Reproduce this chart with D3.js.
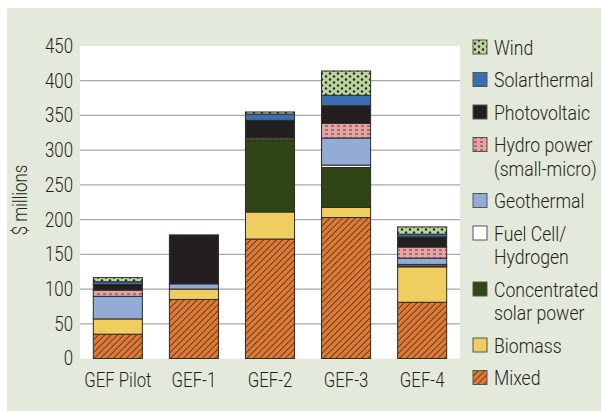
<!DOCTYPE html>
<html>
<head>
<meta charset="utf-8">
<script src="https://cdn.jsdelivr.net/npm/d3@7/dist/d3.min.js"></script>
<style>
  body { margin: 0; background: #fff; }
  text { font-family: Roboto, "DejaVu Sans Condensed", sans-serif; font-weight: 300; fill: #231f20; }
</style>
</head>
<body>
<div id="chart"></div>
<script>
const periods = ["GEF Pilot", "GEF-1", "GEF-2", "GEF-3", "GEF-4"];
// stack order, bottom to top
const sources = ["Mixed", "Biomass", "Concentrated solar power", "Fuel Cell/ Hydrogen",
  "Geothermal", "Hydro power (small-micro)", "Photovoltaic", "Solarthermal", "Wind"];
const mixed        = [35, 85, 172, 203, 81];
const biomass      = [22, 15, 39, 14.5, 51];
const csp          = [0, 0, 104, 57.5, 1.5];
const fuelCell     = [0, 0, 0, 3.5, 2];
const geothermal   = [32.5, 7.5, 0, 39, 9];
const hydro        = [9, 0, 2.5, 21, 16];
const photovoltaic = [8, 70.5, 25.5, 25.5, 14.5];
const solarthermal = [4, 0, 9, 15, 4];
const wind         = [6, 0, 3, 35, 10.5];
const yTicks = [0, 50, 100, 150, 200, 250, 300, 350, 400, 450];

const legendLabels = [
  ["Wind"], ["Solarthermal"], ["Photovoltaic"], ["Hydro power", "(small-micro)"],
  ["Geothermal"], ["Fuel Cell/", "Hydrogen"], ["Concentrated", "solar power"], ["Biomass"], ["Mixed"]
];
const legendKeys = ["Wind", "Solarthermal", "Photovoltaic", "Hydro power (small-micro)",
  "Geothermal", "Fuel Cell/ Hydrogen", "Concentrated solar power", "Biomass", "Mixed"];

const seriesValues = [mixed, biomass, csp, fuelCell, geothermal, hydro, photovoltaic, solarthermal, wind];
const table = periods.map((p, i) => {
  const row = { period: p };
  sources.forEach((s, j) => (row[s] = seriesValues[j][i]));
  return row;
});

const width = 601;
const height = 411;
const squeeze = "scale(0.84,1)"; // condensed look

const svg = d3.select("#chart").append("svg").attr("width", width).attr("height", height);

// patterns
const defs = svg.append("defs");
const hatch = defs.append("pattern").attr("id", "pMixed").attr("patternUnits", "userSpaceOnUse")
  .attr("width", 4.5).attr("height", 4.5).attr("patternTransform", "rotate(45)");
hatch.append("rect").attr("width", 4.5).attr("height", 4.5).attr("fill", "#dd7a35");
hatch.append("line").attr("x1", 0).attr("y1", 0).attr("x2", 0).attr("y2", 4.5)
  .attr("stroke", "#3b2412").attr("stroke-width", 1.4);

const dots = defs.append("pattern").attr("id", "pWind").attr("patternUnits", "userSpaceOnUse")
  .attr("width", 8).attr("height", 6);
dots.append("rect").attr("width", 8).attr("height", 6).attr("fill", "#bcd59e");
dots.append("circle").attr("cx", 2).attr("cy", 1.5).attr("r", 1.2).attr("fill", "#2a2a22");
dots.append("circle").attr("cx", 6).attr("cy", 4.5).attr("r", 1.2).attr("fill", "#2a2a22");

const dash = defs.append("pattern").attr("id", "pHydro").attr("patternUnits", "userSpaceOnUse")
  .attr("width", 6).attr("height", 4);
dash.append("rect").attr("width", 6).attr("height", 4).attr("fill", "#e5a3a3");
dash.append("line").attr("x1", 1).attr("y1", 2).attr("x2", 4).attr("y2", 2)
  .attr("stroke", "#5a3a3a").attr("stroke-width", 1);

const fills = {
  "Mixed": "url(#pMixed)",
  "Biomass": "#f0cd5f",
  "Concentrated solar power": "#2f4515",
  "Fuel Cell/ Hydrogen": "#ffffff",
  "Geothermal": "#93acd6",
  "Hydro power (small-micro)": "url(#pHydro)",
  "Photovoltaic": "#231f20",
  "Solarthermal": "#3b6fb0",
  "Wind": "url(#pWind)"
};

// background panels
svg.append("rect").attr("x", 7).attr("y", 8).attr("width", width - 7).attr("height", height - 8)
  .attr("fill", "#e3eadb");
const plot = { left: 80, right: 460, top: 46, bottom: 358.5 };
svg.append("rect").attr("x", plot.left).attr("y", plot.top)
  .attr("width", plot.right - plot.left).attr("height", plot.bottom - plot.top).attr("fill", "#fff");

const x = d3.scaleBand().domain(periods).range([plot.left, plot.right])
  .paddingInner(0.355).paddingOuter(0.175);
const y = d3.scaleLinear().domain([0, 450]).range([plot.bottom, plot.top]);

// gridlines
svg.append("g").selectAll("line").data(yTicks.filter((d) => d > 0 && d < 450)).join("line")
  .attr("x1", plot.left).attr("x2", plot.right)
  .attr("y1", (d) => y(d)).attr("y2", (d) => y(d))
  .attr("stroke", "#a8a8a8").attr("stroke-width", 1.2);

// y axis
const yAxis = svg.append("g").attr("transform", `translate(${plot.left - 7},0)`)
  .call(d3.axisLeft(y).tickValues(yTicks).tickSize(0).tickPadding(0));
yAxis.select(".domain").remove();
yAxis.selectAll("text").attr("font-size", 20).attr("x", 0).attr("transform", squeeze)
  .style("font-family", 'Roboto, "DejaVu Sans Condensed", sans-serif').attr("fill", "#231f20");

// x axis
const xAxis = svg.append("g").attr("transform", `translate(0,${plot.bottom})`)
  .call(d3.axisBottom(x).tickSize(0).tickPadding(14));
xAxis.select(".domain").remove();
xAxis.selectAll("text").attr("font-size", 20).attr("transform", squeeze)
  .style("font-family", 'Roboto, "DejaVu Sans Condensed", sans-serif').attr("fill", "#231f20");

svg.append("text").text("$ millions")
  .attr("transform", `translate(27, 200) rotate(-90) ${squeeze}`)
  .attr("text-anchor", "middle").attr("font-size", 20);

// stacked bars
const stacked = d3.stack().keys(sources)(table);
svg.append("g").selectAll("g").data(stacked).join("g")
  .attr("fill", (d) => fills[d.key])
  .selectAll("rect").data((d) => d.filter((s) => s[1] - s[0] > 0)).join("rect")
  .attr("x", (d) => x(d.data.period))
  .attr("width", x.bandwidth())
  .attr("y", (d) => y(d[1]))
  .attr("height", (d) => y(d[0]) - y(d[1]))
  .attr("stroke", "#2b2b2b").attr("stroke-width", 1);

// legend
const legend = svg.append("g").attr("transform", "translate(473, 0)");
let ly = 47;
legendKeys.forEach((key, i) => {
  const lines = legendLabels[i];
  legend.append("rect").attr("x", 0).attr("y", ly - 7).attr("width", 14).attr("height", 14)
    .attr("fill", fills[key]).attr("stroke", "#555").attr("stroke-width", 1);
  lines.forEach((l, k) => {
    legend.append("text").text(l)
      .attr("transform", `translate(21, ${ly + 7.5 + k * 23.5}) ${squeeze}`)
      .attr("font-size", 21);
  });
  ly += 32.5 + (lines.length - 1) * 23.5;
});
</script>
</body>
</html>
